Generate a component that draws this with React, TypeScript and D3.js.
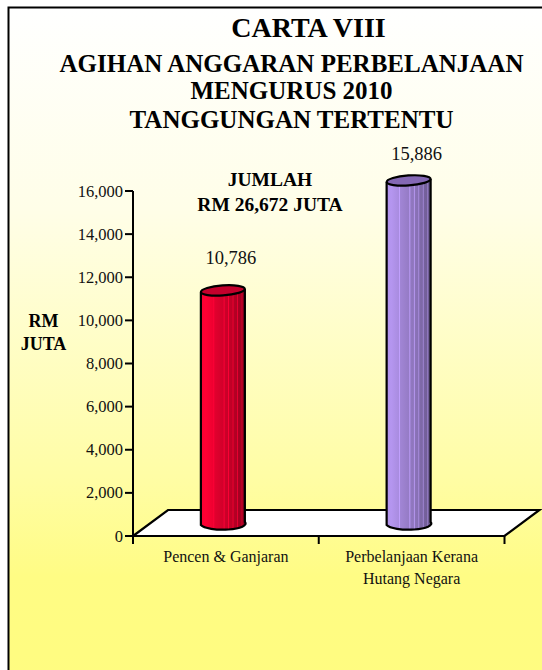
import React from "react";
import * as d3 from "d3";

const categories = ["Pencen & Ganjaran", "Perbelanjaan Kerana|Hutang Negara"];
const values = [10786, 15886];
const valueLabels = ["10,786", "15,886"];
const yTicks = [0, 2000, 4000, 6000, 8000, 10000, 12000, 14000, 16000];
const titleLines = ["AGIHAN ANGGARAN PERBELANJAAN", "MENGURUS 2010", "TANGGUNGAN TERTENTU"];
const titleBaselines = [72, 99, 127.5];
const stripeStops: [number, number][] = [
  [0, 1.04], [0.1, 1.07], [0.27, 1], [0.29, 1.15], [0.31, 0.95], [0.5, 0.88], [0.52, 1.14], [0.54, 0.86],
  [0.6, 0.84], [0.62, 1.1], [0.64, 0.82], [0.7, 0.8], [0.72, 1.02], [0.74, 0.76], [0.8, 0.74],
  [0.82, 0.97], [0.84, 0.7], [0.9, 0.68], [0.92, 0.9], [0.94, 0.64], [1, 0.58],
];
const barBases = ["#ee0030", "#a98ce0"];
const barTops = ["#c4002c", "#8468b4"];

const font = "'Liberation Serif', 'Times New Roman', serif";

export default function App() {
  const y = d3.scaleLinear().domain([0, 16000]).range([536, 191]);
  const x = d3.scaleBand<number>().domain([0, 1]).range([133, 504.5]);
  const depthX = 35;
  const depthY = 26;
  const rx = 22;
  const ry = 6;
  const floor = d3.line()([
    [x.range()[0], y(0)],
    [x.range()[1], y(0)],
    [x.range()[1] + depthX, y(0) - depthY],
    [x.range()[0] + depthX, y(0) - depthY],
  ]) + "Z";
  const axis = d3.line()([
    [x.range()[0], y(16000)],
    [x.range()[0], y(0) + 8],
  ]);
  return (
    <svg
      width={542}
      height={670}
      style={{ position: "absolute", left: 0, top: 0, display: "block" }}
      fontFamily={font}
    >
      <defs>
        <linearGradient id="bg" x1="0" y1="0" x2="0" y2="1">
          <stop offset="0" stopColor="#ffffff" />
          <stop offset="0.3" stopColor="#fffee8" />
          <stop offset="0.7" stopColor="#fffda5" />
          <stop offset="0.85" stopColor="#fffc84" />
          <stop offset="1" stopColor="#fffc80" />
        </linearGradient>
        {barBases.map((c, i) => (
          <linearGradient key={i} id={`bar${i}`} x1="0" y1="0" x2="1" y2="0">
            {stripeStops.map(([o, k], j) => {
              const col = d3.rgb(c);
              return (
                <stop
                  key={j}
                  offset={o}
                  stopColor={d3.rgb(Math.min(255, col.r * k), Math.min(255, col.g * k), Math.min(255, col.b * k)).formatHex()}
                />
              );
            })}
          </linearGradient>
        ))}
      </defs>
      <rect x={8.5} y={7.5} width={540} height={670} fill="url(#bg)" stroke="#000" strokeWidth={2} />

      <path d={floor} fill="#fff" stroke="#000" strokeWidth={2.2} strokeLinejoin="miter" />

      {values.map((v, i) => {
        const cx = x(i)! + x.bandwidth() / 2 - 3;
        const base = y(0) - 13;
        const top = y(v) - 13;
        const d = `M${cx - rx},${top + 1.5} L${cx - rx},${base + 2} A${rx},${ry} 0 0 0 ${cx + rx},${base - 1} L${cx + rx},${top - 1.5}`;
        return (
          <g key={i}>
            <path d={d + "Z"} fill={`url(#bar${i})`} />
            <path d={d} fill="none" stroke="#000" strokeWidth={2.2} />
            <ellipse
              cx={cx}
              cy={top}
              rx={rx}
              ry={ry - 1}
              transform={`rotate(-4 ${cx} ${top})`}
              fill={barTops[i]}
              stroke="#000"
              strokeWidth={2.2}
            />
            <text x={cx + 8} y={top - (i === 0 ? 26 : 20)} fontSize={18.5} textAnchor="middle" fill="#111">
              {valueLabels[i]}
            </text>
          </g>
        );
      })}

      <path d={axis!} stroke="#000" strokeWidth={2} fill="none" />
      {yTicks.map((t) => (
        <g key={t}>
          <line x1={125} x2={133} y1={y(t)} y2={y(t)} stroke="#000" strokeWidth={2} />
          <text x={123} y={y(t) + 5.5} textAnchor="end" fontSize={16.5} fill="#111">
            {d3.format(",")(t)}
          </text>
        </g>
      ))}
      {[0, 1, 2].map((i) => (
        <line
          key={i}
          x1={133 + i * x.bandwidth()}
          x2={133 + i * x.bandwidth()}
          y1={y(0)}
          y2={y(0) + 8}
          stroke="#000"
          strokeWidth={2}
        />
      ))}
      {categories.map((c, i) => (
        <text key={i} textAnchor="middle" fontSize={16} fill="#111">
          {c.split("|").map((line, j) => (
            <tspan key={j} x={x(i)! + x.bandwidth() / 2 + 0} y={562 + j * 22}>
              {line}
            </tspan>
          ))}
        </text>
      ))}

      <text x={308.5} y={37} textAnchor="middle" fontSize={28} fontWeight="bold" fill="#000">CARTA VIII</text>
      {titleLines.map((t, i) => (
        <text key={t} x={291.5} y={titleBaselines[i]} textAnchor="middle" fontSize={25} fontWeight="bold" fill="#000">
          {t}
        </text>
      ))}
      <text x={270} y={186} textAnchor="middle" fontSize={19.5} fontWeight="bold" fill="#000">JUMLAH</text>
      <text x={270} y={211} textAnchor="middle" fontSize={19.5} fontWeight="bold" fill="#000">RM 26,672 JUTA</text>
      <text x={43.5} y={326.5} textAnchor="middle" fontSize={18} fontWeight="bold" fill="#000">RM</text>
      <text x={43.5} y={350} textAnchor="middle" fontSize={18} fontWeight="bold" fill="#000">JUTA</text>
    </svg>
  );
}
